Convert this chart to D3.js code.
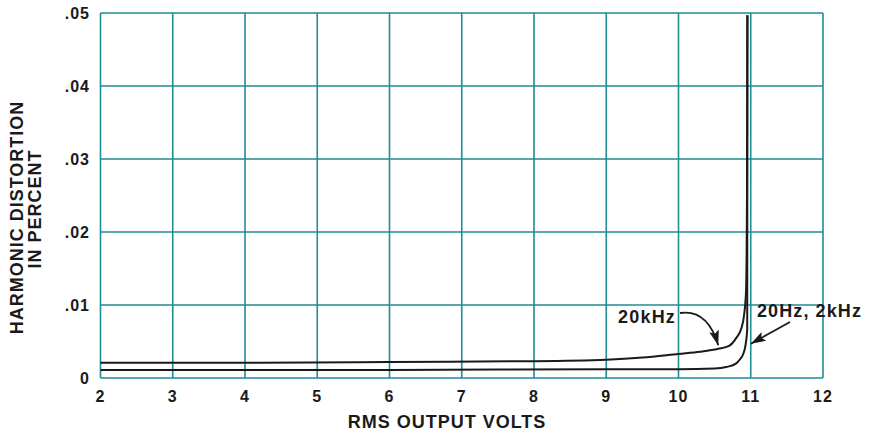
<!DOCTYPE html>
<html>
<head>
<meta charset="utf-8">
<script src="https://cdn.jsdelivr.net/npm/d3@7/dist/d3.min.js"></script>
<style>
  html, body { margin: 0; padding: 0; background: #ffffff; }
  svg text { font-family: "Liberation Sans", Arial, Helvetica, sans-serif; font-weight: bold; fill: #1a1a1a; }
</style>
</head>
<body>
<svg id="chart" width="878" height="436"></svg>
<script>
// ---- data ----
const xTicks = [2, 3, 4, 5, 6, 7, 8, 9, 10, 11, 12];
const yTicks = [0, 0.01, 0.02, 0.03, 0.04, 0.05];
const yTickLabels = ["0", ".01", ".02", ".03", ".04", ".05"];

const volts20k = [2, 4, 6, 8, 9, 9.5, 10, 10.3, 10.55, 10.7, 10.8, 10.87, 10.91, 10.935, 10.948, 10.952];
const thd20k   = [0.0021, 0.0021, 0.0022, 0.0023, 0.0025, 0.0028, 0.0033, 0.0036, 0.0040, 0.0044, 0.0055, 0.0068, 0.0088, 0.0120, 0.0250, 0.0497];

const voltsLow = [2, 6, 9, 10, 10.5, 10.66, 10.8, 10.845, 10.9, 10.924, 10.951, 10.955];
const thdLow   = [0.0011, 0.0011, 0.0012, 0.0012, 0.0013, 0.0015, 0.0020, 0.0025, 0.0034, 0.0043, 0.0066, 0.0497];

const xTitle = "RMS OUTPUT VOLTS";
const yTitle1 = "HARMONIC DISTORTION";
const yTitle2 = "IN PERCENT";
const label20k = "20kHz";
const labelLow = "20Hz, 2kHz";

// ---- scales ----
const svg = d3.select("#chart");
const x = d3.scaleLinear().domain([2, 12]).range([100.5, 823]);
const y = d3.scaleLinear().domain([0, 0.05]).range([378, 13]);
const grid = "#218d95";

// grid
const g = svg.append("g");
g.selectAll("line.vx").data(xTicks).enter().append("line")
  .attr("x1", d => x(d)).attr("x2", d => x(d))
  .attr("y1", y(0)).attr("y2", y(0.05))
  .attr("stroke", grid).attr("stroke-width", 1.6);
g.selectAll("line.hy").data(yTicks).enter().append("line")
  .attr("x1", x(2)).attr("x2", x(12))
  .attr("y1", d => y(d)).attr("y2", d => y(d))
  .attr("stroke", grid).attr("stroke-width", 1.6);

// tick labels
svg.append("g").selectAll("text").data(xTicks).enter().append("text")
  .attr("x", d => x(d)).attr("y", 402)
  .attr("text-anchor", "middle")
  .attr("font-size", 16).attr("letter-spacing", 1)
  .text(d => d);
svg.append("g").selectAll("text").data(yTicks).enter().append("text")
  .attr("x", 90).attr("y", d => y(d) + 6)
  .attr("text-anchor", "end")
  .attr("font-size", 16).attr("letter-spacing", 1)
  .text((d, i) => yTickLabels[i]);

// titles
svg.append("text").attr("x", 447).attr("y", 427.5)
  .attr("text-anchor", "middle").attr("font-size", 18).attr("letter-spacing", 1)
  .text(xTitle);
svg.append("text").attr("transform", "translate(23,217.5) rotate(-90)")
  .attr("text-anchor", "middle").attr("font-size", 18).attr("letter-spacing", 1)
  .text(yTitle1);
svg.append("text").attr("transform", "translate(40.5,209) rotate(-90)")
  .attr("text-anchor", "middle").attr("font-size", 18).attr("letter-spacing", 1)
  .text(yTitle2);

// curves
const line = d3.line().x(d => x(d[0])).y(d => y(d[1])).curve(d3.curveMonotoneX);
const s20k = volts20k.map((v, i) => [v, thd20k[i]]);
const sLow = voltsLow.map((v, i) => [v, thdLow[i]]);
[s20k, sLow].forEach(s => {
  svg.append("path").attr("d", line(s))
    .attr("fill", "none").attr("stroke", "#1a1a1a").attr("stroke-width", 2);
});

// arrowheads
const defs = svg.append("defs");
defs.append("marker").attr("id", "ah")
  .attr("viewBox", "0 0 15 10").attr("refX", 15).attr("refY", 5)
  .attr("markerWidth", 15).attr("markerHeight", 10)
  .attr("markerUnits", "userSpaceOnUse").attr("orient", "auto")
  .append("path").attr("d", "M0,0 L15,5 L0,10 L3,5 Z").attr("fill", "#1a1a1a");

// annotations
svg.append("text").attr("x", 618).attr("y", 323).attr("font-size", 18).attr("letter-spacing", 1.2).text(label20k);
svg.append("text").attr("x", 757).attr("y", 317).attr("font-size", 18).attr("letter-spacing", 1.1).text(labelLow);

const tip20k = [x(10.55), y(0.0042) - 2];
svg.append("path")
  .attr("d", `M680,313 C700,310 712,324 ${tip20k[0]},${tip20k[1]}`)
  .attr("fill", "none").attr("stroke", "#1a1a1a").attr("stroke-width", 1.8)
  .attr("marker-end", "url(#ah)");
svg.append("path")
  .attr("d", `M790,322 L${x(10.96) + 3},${y(0.0047)}`)
  .attr("fill", "none").attr("stroke", "#1a1a1a").attr("stroke-width", 1.8)
  .attr("marker-end", "url(#ah)");
</script>
</body>
</html>
